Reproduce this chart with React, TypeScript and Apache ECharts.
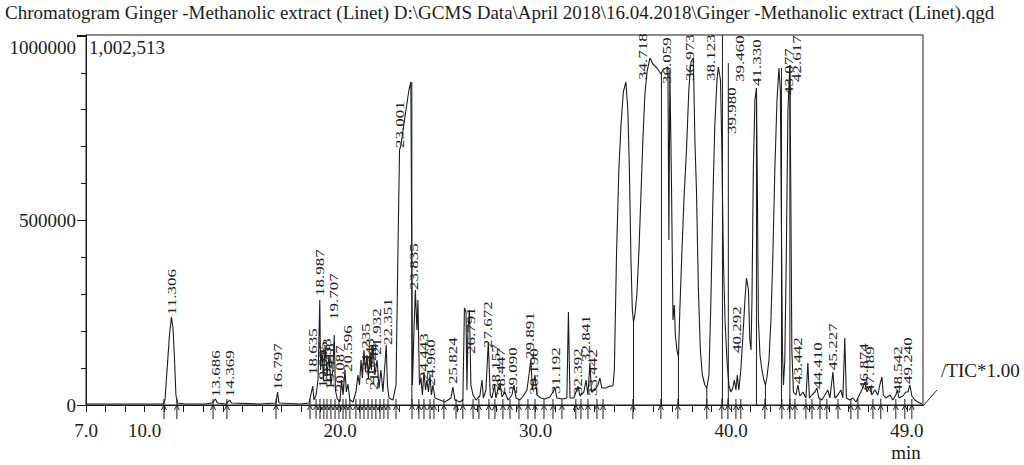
import React, { useEffect, useRef } from "react";
import * as echarts from "echarts";

// ---- chromatogram trace (retention time in min, intensity) ----
const times = [
  7.0, 8.74, 10.27, 10.94, 11.04, 11.14, 11.27, 11.37, 11.45, 11.53, 11.6, 11.68, 12.06, 13.09, 13.45, 13.62, 13.72, 14.16, 14.35, 14.45,
  15.9, 16.72, 16.8, 16.87, 17.95, 18.41, 18.6, 18.66, 18.77, 18.87, 18.96, 19.0, 19.07, 19.15, 19.23, 19.33, 19.43, 19.53, 19.63, 19.7,
  19.76, 19.84, 19.99, 20.07, 20.15, 20.25, 20.32, 20.4, 20.5, 20.66, 20.81, 20.91, 20.99, 21.07, 21.14, 21.22, 21.3, 21.37, 21.45, 21.53,
  21.6, 21.68, 21.78, 21.89, 21.99, 22.09, 22.19, 22.29, 22.36, 22.42, 22.5, 22.7, 22.86, 22.96, 23.04, 23.11, 23.22, 23.37, 23.52, 23.62,
  23.7, 23.78, 23.85, 23.93, 23.98, 24.06, 24.14, 24.21, 24.29, 24.37, 24.44, 24.52, 24.6, 24.67, 24.75, 24.85, 25.11, 25.36, 25.67, 25.77,
  25.87, 26.13, 26.28, 26.36, 26.44, 26.49, 26.54, 26.62, 26.69, 26.8, 26.95, 27.15, 27.26, 27.33, 27.46, 27.58, 27.68, 27.77, 27.9, 27.97,
  28.07, 28.18, 28.28, 28.43, 28.59, 28.79, 28.89, 29.0, 29.2, 29.4, 29.56, 29.66, 29.76, 29.84, 29.97, 30.07, 30.27, 30.48, 30.73, 30.89,
  30.99, 31.09, 31.35, 31.6, 31.68, 31.76, 31.96, 32.17, 32.27, 32.47, 32.58, 32.68, 32.78, 32.86, 33.04, 33.19, 33.29, 33.39, 33.6, 33.8,
  33.96, 34.03, 34.14, 34.26, 34.37, 34.49, 34.62, 34.72, 34.8, 34.88, 34.95, 35.01, 35.08, 35.18, 35.29, 35.39, 35.49, 35.59, 35.7, 35.85,
  36.0, 36.21, 36.41, 36.51, 36.67, 36.77, 36.82, 36.87, 36.95, 37.03, 37.1, 37.15, 37.23, 37.31, 37.38, 37.49, 37.59, 37.72, 37.84, 37.95,
  38.07, 38.15, 38.23, 38.33, 38.43, 38.53, 38.66, 38.76, 38.87, 38.97, 39.07, 39.17, 39.28, 39.35, 39.46, 39.53, 39.61, 39.69, 39.79, 39.89,
  39.99, 40.09, 40.17, 40.25, 40.32, 40.4, 40.5, 40.61, 40.71, 40.79, 40.89, 40.96, 41.02, 41.07, 41.14, 41.22, 41.3, 41.35, 41.4, 41.48,
  41.58, 41.68, 41.76, 41.83, 41.94, 42.04, 42.14, 42.24, 42.35, 42.45, 42.52, 42.58, 42.63, 42.68, 42.75, 42.83, 42.91, 43.01, 43.06, 43.11,
  43.19, 43.32, 43.42, 43.52, 43.68, 43.83, 43.93, 44.01, 44.14, 44.29, 44.39, 44.49, 44.65, 44.8, 44.95, 45.06, 45.21, 45.31, 45.47, 45.62,
  45.72, 45.82, 45.9, 46.08, 46.23, 46.39, 46.54, 46.69, 46.85, 46.95, 47.1, 47.2, 47.36, 47.51, 47.61, 47.72, 47.79, 47.92, 48.13, 48.28,
  48.43, 48.51, 48.59, 48.79, 48.94, 49.05, 49.15, 49.25, 49.4, 49.56, 49.76,
];
const intensities = [
  2700, 2700, 2700, 2700, 13500, 89400, 189700, 238400, 208600, 121900, 27100, 5400, 2700, 2700, 5400, 16300, 5400, 2700, 13500, 5400,
  2700, 5400, 35200, 5400, 2700, 5400, 51500, 13500, 27100, 67700, 284500, 94800, 149000, 67700, 162600, 81300, 135500, 54200, 94800, 189700,
  40600, 19000, 8100, 67700, 27100, 94800, 35200, 56900, 13500, 8100, 35200, 81300, 54200, 121900, 73200, 149000, 89400, 135500, 73200, 143600,
  94800, 162600, 81300, 121900, 46100, 94800, 35200, 108400, 162600, 54200, 19000, 13500, 54200, 420000, 690900, 704500, 745100, 799300, 853500, 875200,
  54200, 203200, 311600, 203200, 284500, 54200, 73200, 27100, 89400, 40600, 67700, 35200, 81300, 27100, 54200, 19000, 13500, 8100, 19000, 48800,
  13500, 8100, 13500, 262800, 252000, 40600, 203200, 257400, 54200, 27100, 13500, 24400, 67700, 19000, 40600, 170700, 27100, 19000, 54200, 19000,
  40600, 59600, 21700, 35200, 13500, 27100, 54200, 19000, 13500, 27100, 40600, 81300, 121900, 40600, 81300, 27100, 19000, 16300, 21700, 35200,
  46100, 19000, 16300, 19000, 252000, 19000, 19000, 51500, 24400, 35200, 67700, 27100, 113800, 35200, 40600, 54200, 73200, 46100, 46100, 51500,
  51500, 94800, 406400, 636700, 758700, 848100, 875200, 799300, 636700, 392900, 257400, 224900, 243900, 298000, 420000, 569000, 718000, 840000, 902300, 940200,
  923900, 913100, 896800, 907700, 913100, 915800, 447100, 907700, 609600, 230300, 271000, 189700, 149000, 130100, 257400, 420000, 555400, 690900, 853500, 929300,
  940200, 718000, 582500, 311600, 149000, 81300, 54200, 46100, 81300, 284500, 555400, 758700, 880600, 915800, 880600, 690900, 392900, 230300, 121900, 54200,
  35200, 46100, 67700, 40600, 81300, 40600, 94800, 189700, 284500, 344100, 311600, 176100, 149000, 284500, 636700, 826400, 858900, 555400, 230300, 135500,
  94800, 67700, 54200, 73200, 121900, 230300, 406400, 636700, 826400, 913100, 853500, 474200, 149000, 54200, 121900, 420000, 799300, 921200, 555400, 149000,
  35200, 27100, 54200, 24400, 35200, 19000, 113800, 19000, 27100, 35200, 46100, 19000, 13500, 27100, 40600, 19000, 89400, 19000, 27100, 40600,
  19000, 181500, 19000, 13500, 19000, 8100, 24400, 40600, 62300, 35200, 51500, 27100, 40600, 27100, 54200, 75900, 27100, 19000, 27100, 13500,
  27100, 40600, 19000, 24400, 35200, 35200, 54200, 24400, 13500, 8100, 2700,
];

// ---- peak labels (retention time text, position on the time axis, height of label foot) ----
const peakLabels = [
  "11.306", "13.686", "14.369", "16.797", "18.635", "18.987", "19.095", "19.253", "19.418", "19.707",
  "20.087", "20.596", "21.235", "21.443", "21.744", "21.932", "22.351", "23.001", "23.835", "24.443",
  "24.960", "25.824", "26.791", "27.672", "28.157", "28.447", "29.090", "29.891", "30.190", "31.192",
  "32.392", "32.841", "33.442", "34.718", "36.059", "36.973", "38.123", "39.980", "39.460", "40.292",
  "41.330", "43.077", "42.617", "43.442", "44.410", "45.227", "46.874", "47.189", "48.542", "49.240",
];
const peakLabelTimes = [
  11.4, 13.65, 14.37, 16.82, 18.61, 18.97, 19.12, 19.33, 19.48, 19.69,
  19.99, 20.4, 21.32, 21.53, 21.73, 21.89, 22.45, 23.06, 23.78, 24.29,
  24.65, 25.77, 26.69, 27.56, 27.97, 28.23, 28.84, 29.71, 29.92, 31.04,
  32.17, 32.58, 32.93, 35.49, 36.72, 37.9, 38.97, 40.04, 40.45, 40.3,
  41.32, 42.96, 43.37, 43.42, 44.44, 45.21, 46.8, 47.1, 48.54, 49.05,
];
const peakLabelHeights = [
  243900, 21700, 21700, 40600, 81300, 295300, 46100, 54200, 40600, 230300,
  35200, 89400, 94800, 54200, 40600, 135500, 162600, 696300, 311600, 67700,
  51500, 56900, 138200, 154400, 37900, 27100, 29800, 124600, 27100, 29800,
  27100, 116500, 24400, 880600, 869700, 877900, 877900, 734300, 875200, 140900,
  864300, 840000, 875200, 56900, 43400, 94800, 40600, 32500, 32500, 56900,
];

// ---- drop lines from peak to baseline ----
const dropTimes = [23.67, 35.01, 36.44, 37.31, 38.76, 39.56, 39.86, 41.3, 41.76, 42.58, 43.01];
const dropHeights = [875200, 224900, 900000, 130100, 46100, 1002513, 926600, 858900, 54200, 913100, 921200];

// ---- integration markers on the baseline ----
const markerTimes = [
  10.99, 11.65, 13.5, 14.21, 16.72, 18.46, 18.77, 18.97, 19.17, 19.33, 19.53, 19.74, 19.94, 20.15, 20.3, 20.5,
  20.81, 21.02, 21.22, 21.43, 21.63, 21.83, 22.04, 22.24, 22.45, 22.86, 23.68, 24.03, 24.29, 24.6, 24.8, 25.31,
  25.93, 26.28, 26.8, 27.1, 27.61, 27.92, 28.33, 28.69, 29.15, 29.61, 29.97, 30.43, 30.89, 31.35, 32.06, 32.32,
  32.68, 33.14, 33.45, 34.98, 36.41, 37.28, 38.76, 39.53, 39.84, 40.25, 40.5, 41.73, 42.6, 43.01, 43.27, 43.83,
  44.14, 44.55, 44.9, 45.47, 46.13, 46.49, 47.26, 47.66, 48.43, 48.89, 49.25,
];

// ---- axes ----
const xMin = 7;
const xMax = 49.82;
const xTickLabels = [7, 10, 20, 30, 40, 49];
const yMax = 1002513;
const yTickLabels = [0, 500000];

const titleText =
  "Chromatogram Ginger -Methanolic extract (Linet) D:\\GCMS Data\\April 2018\\16.04.2018\\Ginger -Methanolic extract (Linet).qgd";

const FONT = '"Liberation Serif", "DejaVu Serif", serif';
const INK = "#1c1c1c";
const FS = 19;

export default function App() {
  const ref = useRef<HTMLDivElement>(null);

  useEffect(() => {
    document.body.style.margin = "0";
    if (!ref.current) return;
    const chart = echarts.init(ref.current, undefined, { renderer: "svg" });

    const trace = times.map((t, i) => [t, intensities[i]]);
    const labels = peakLabelTimes.map((t, i) => [t, peakLabelHeights[i]]);
    const drops = dropTimes.map((t, i) => [t, dropHeights[i]]);
    const markers = markerTimes.map((t) => [t, 0]);

    chart.setOption({
      animation: false,
      backgroundColor: "#ffffff",
      grid: {
        left: 86,
        right: 101,
        top: 35,
        bottom: 60,
        show: true,
        borderColor: INK,
        borderWidth: 1,
        backgroundColor: "transparent",
      },
      xAxis: {
        type: "value",
        min: xMin,
        max: xMax,
        interval: 1,
        axisLine: { show: true, lineStyle: { color: INK, width: 1 } },
        axisTick: { show: true, length: 7, inside: false, lineStyle: { color: INK, width: 1 } },
        splitLine: { show: false },
        axisLabel: {
          interval: 0,
          margin: 16,
          showMaxLabel: false,
          color: INK,
          fontFamily: FONT,
          fontSize: FS,
          formatter: (v: number) => (xTickLabels.some((k) => Math.abs(k - v) < 1e-6) ? v.toFixed(1) : ""),
        },
      },
      yAxis: {
        type: "value",
        min: 0,
        max: yMax,
        interval: 500000,
        axisLine: { show: true, lineStyle: { color: INK, width: 1 } },
        axisTick: { show: true, length: 9, inside: false, lineStyle: { color: INK, width: 1 } },
        minorTick: { show: true, splitNumber: 5, length: 5, lineStyle: { color: INK, width: 1 } },
        splitLine: { show: false },
        axisLabel: {
          margin: 10,
          color: INK,
          fontFamily: FONT,
          fontSize: FS,
          showMaxLabel: false,
          formatter: (v: number) => (yTickLabels.includes(v) ? String(v) : ""),
        },
      },
      series: [
        {
          type: "line",
          data: trace,
          showSymbol: false,
          symbol: "none",
          lineStyle: { color: INK, width: 1.1 },
          z: 3,
        },
        {
          type: "custom",
          data: drops,
          encode: { x: 0, y: 1 },
          z: 3,
          renderItem: (_p: any, api: any) => {
            const top = api.coord([api.value(0), api.value(1)]);
            const bot = api.coord([api.value(0), 0]);
            return {
              type: "line",
              shape: { x1: bot[0], y1: bot[1], x2: top[0], y2: top[1] },
              style: { stroke: INK, lineWidth: 1 },
            };
          },
        },
        {
          type: "custom",
          data: markers,
          encode: { x: 0, y: 1 },
          z: 4,
          renderItem: (_p: any, api: any) => {
            const p = api.coord([api.value(0), 0]);
            return {
              type: "group",
              children: [
                {
                  type: "line",
                  shape: { x1: p[0], y1: p[1] - 6, x2: p[0], y2: p[1] + 14 },
                  style: { stroke: INK, lineWidth: 1 },
                },
                {
                  type: "polyline",
                  shape: { points: [[p[0] - 2.5, p[1] + 5], [p[0], p[1]], [p[0] + 2.5, p[1] + 5]] },
                  style: { stroke: INK, lineWidth: 1, fill: "none" },
                },
              ],
            };
          },
        },
        {
          type: "custom",
          data: labels,
          encode: { x: 0, y: 1 },
          z: 5,
          renderItem: (params: any, api: any) => {
            const p = api.coord([api.value(0), api.value(1)]);
            return {
              type: "text",
              x: p[0],
              y: p[1],
              rotation: Math.PI / 2,
              scaleX: 1,
              scaleY: 0.72,
              style: {
                text: peakLabels[params.dataIndex],
                fontFamily: FONT,
                fontSize: 17,
                fill: "#222222",
                align: "left",
                verticalAlign: "middle",
              },
            };
          },
        },
      ],
      graphic: [
        {
          type: "text",
          x: 5,
          y: 12,
          style: { text: titleText, fontFamily: FONT, fontSize: FS, fill: INK, align: "left", verticalAlign: "middle" },
        },
        {
          type: "text",
          x: 89,
          y: 47,
          style: { text: "1,002,513", fontFamily: FONT, fontSize: FS, fill: INK, align: "left", verticalAlign: "middle" },
        },
        {
          type: "text",
          x: 76,
          y: 47,
          style: { text: "1000000", fontFamily: FONT, fontSize: FS, fill: INK, align: "right", verticalAlign: "middle" },
        },
        {
          type: "text",
          x: 906,
          y: 452,
          style: { text: "min", fontFamily: FONT, fontSize: FS, fill: INK, align: "center", verticalAlign: "middle" },
        },
        {
          type: "line",
          shape: { x1: 923, y1: 406, x2: 937, y2: 390 },
          style: { stroke: INK, lineWidth: 1 },
        },
        {
          type: "text",
          x: 941,
          y: 370,
          style: { text: "/TIC*1.00", fontFamily: FONT, fontSize: FS, fill: INK, align: "left", verticalAlign: "middle" },
        },
      ],
    });

    return () => chart.dispose();
  }, []);

  return <div ref={ref} style={{ position: "absolute", left: 0, top: 0, width: 1024, height: 465 }} />;
}
